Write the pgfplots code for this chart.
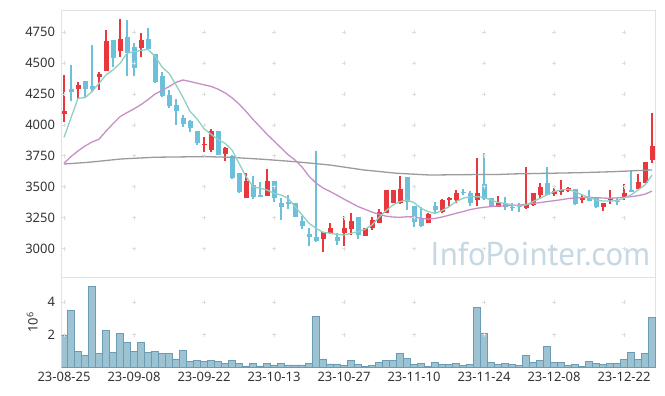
\documentclass[border=0pt]{standalone}
\usepackage{pgfplots}
\pgfplotsset{compat=1.18}
\usepackage{pgfplotstable}
\usepackage{fontspec}
\setmainfont{Noto Sans}
\newfontfamily\wmfont{PT Sans}
\definecolor{upc}{HTML}{E8383D}
\definecolor{dnc}{HTML}{6CC0DA}
\definecolor{ma5}{HTML}{8FD0C3}
\definecolor{ma20}{HTML}{C78FC6}
\definecolor{ma60}{HTML}{9B9B9B}
\definecolor{volf}{HTML}{9DC2D2}
\definecolor{vold}{HTML}{6A9CB5}
\definecolor{gridc}{HTML}{DEDEDE}
\definecolor{axc}{HTML}{E2E2E2}
\definecolor{txt}{HTML}{333333}
\definecolor{wm}{HTML}{C6D8E3}

\pgfplotstableread{
i O H L C
0 4089 4404 4027 4113
2 4289 4345 4210 4324
5 4391 4431 4283 4410
6 4439 4769 4439 4680
8 4599 4855 4548 4696
11 4625 4742 4548 4688
20 3835 3900 3780 3850
21 3798 3968 3779 3951
23 3763 3820 3709 3814
26 3407 3609 3407 3547
29 3428 3641 3428 3547
37 3075 3132 2970 3132
38 3124 3204 3116 3164
40 3124 3264 3021 3164
41 3156 3291 3110 3223
43 3105 3164 3105 3164
44 3164 3253 3150 3231
45 3210 3318 3204 3299
46 3291 3474 3291 3474
47 3366 3474 3366 3474
48 3366 3587 3361 3482
52 3210 3291 3204 3280
54 3299 3399 3291 3393
55 3393 3420 3339 3409
56 3393 3474 3366 3452
59 3393 3730 3345 3452
62 3339 3428 3334 3366
66 3331 3657 3318 3358
67 3353 3447 3345 3447
68 3434 3528 3398 3496
70 3439 3493 3426 3466
71 3458 3555 3434 3474
72 3469 3496 3461 3487
74 3393 3434 3366 3420
77 3339 3366 3304 3366
78 3393 3474 3361 3412
80 3420 3520 3393 3447
82 3485 3603 3479 3536
83 3533 3703 3528 3701
84 3717 4094 3690 3830
}\upT

\pgfplotstableread{
i O H L C
1 4291 4485 4197 4269
3 4356 4356 4221 4289
4 4316 4647 4264 4289
7 4688 4688 4472 4540
9 4709 4849 4396 4580
10 4629 4666 4396 4459
12 4696 4782 4612 4612
13 4574 4574 4337 4350
14 4396 4431 4224 4235
15 4243 4283 4135 4156
16 4162 4208 4000 4116
17 4054 4081 3981 4006
18 4032 4040 3946 3973
19 3951 3951 3838 3857
22 3951 3951 3757 3757
24 3749 3757 3563 3574
25 3609 3614 3452 3460
27 3515 3590 3401 3420
28 3436 3541 3420 3420
30 3547 3547 3380 3412
31 3367 3407 3232 3339
32 3374 3434 3320 3361
33 3367 3367 3259 3259
34 3223 3263 3159 3186
35 3118 3168 3024 3097
36 3092 3792 3056 3064
39 3096 3123 3029 3064
42 3258 3258 3075 3110
49 3577 3577 3312 3374
50 3347 3347 3172 3218
51 3250 3339 3172 3183
53 3345 3380 3285 3312
57 3461 3479 3434 3447
58 3452 3469 3347 3366
60 3523 3776 3393 3398
61 3407 3412 3336 3342
63 3361 3420 3312 3334
64 3339 3372 3307 3328
65 3345 3366 3299 3334
69 3533 3657 3434 3434
73 3479 3479 3353 3361
75 3420 3474 3388 3388
76 3407 3407 3326 3334
79 3385 3407 3353 3374
81 3471 3636 3459 3459
}\dnT

\pgfplotstableread{
i v
0 3900
1 4057
2 4216
3 4221
4 4270
5 4337
6 4405
7 4445
8 4499
9 4580
10 4593
11 4603
12 4612
13 4555
14 4470
15 4418
16 4324
17 4222
18 4110
19 4050
20 3970
21 3925
22 3882
23 3852
24 3798
25 3690
26 3582
27 3501
28 3488
29 3474
30 3447
31 3434
32 3407
33 3339
34 3272
35 3205
36 3164
37 3132
38 3125
39 3114
40 3110
41 3123
42 3137
43 3156
44 3191
45 3253
46 3307
47 3353
48 3380
49 3393
50 3372
51 3326
52 3299
53 3285
54 3307
55 3339
56 3380
57 3407
58 3420
59 3420
60 3414
61 3393
62 3373
63 3366
64 3353
65 3345
66 3353
67 3380
68 3407
69 3434
70 3461
71 3474
72 3479
73 3461
74 3434
75 3415
76 3393
77 3385
78 3385
79 3388
80 3407
81 3434
82 3474
83 3515
84 3595
}\maA

\pgfplotstableread{
i v
0 3690
1 3744
2 3790
3 3830
4 3862
5 3885
6 3950
7 4010
8 4067
9 4100
10 4130
11 4165
12 4205
13 4250
14 4280
15 4310
16 4345
17 4364
18 4352
19 4338
20 4325
21 4312
22 4290
23 4260
24 4220
25 4170
26 4110
27 4045
28 3985
29 3925
30 3870
31 3815
32 3760
33 3717
34 3660
35 3585
36 3530
37 3490
38 3462
39 3432
40 3400
41 3370
42 3340
43 3318
44 3295
45 3278
46 3262
47 3255
48 3253
49 3257
50 3256
51 3245
52 3238
53 3244
54 3255
55 3270
56 3285
57 3299
58 3315
59 3326
60 3334
61 3340
62 3345
63 3345
64 3349
65 3352
66 3358
67 3365
68 3372
69 3380
70 3387
71 3395
72 3404
73 3410
74 3413
75 3415
76 3412
77 3409
78 3407
79 3410
80 3415
81 3420
82 3428
83 3440
84 3465
}\maB

\pgfplotstableread{
i v
0 3684
3.5 3698
8.2 3725
13 3739
20 3744
23.5 3739
28.3 3723
33 3703
38 3676
42.8 3636
47.6 3609
52.3 3595
57 3598
62.3 3600
64.2 3604
69 3609
73.7 3614
78.4 3622
84 3636
}\maC

\pgfplotstableread{
i v
0 1.95
1 3.49
2 0.96
3 0.76
4 4.96
5 0.84
6 2.26
7 0.90
8 2.07
9 1.52
10 0.96
11 1.52
12 0.90
13 0.96
14 0.84
15 0.84
16 0.53
17 1.03
18 0.35
19 0.41
20 0.37
21 0.41
22 0.35
23 0.23
24 0.41
25 0.23
26 0.10
27 0.23
28 0.10
29 0.23
30 0.16
31 0.23
32 0.16
33 0.16
34 0.16
35 0.23
36 3.12
37 0.53
38 0.22
39 0.22
40 0.14
41 0.41
42 0.20
43 0.08
44 0.14
45 0.29
46 0.41
47 0.45
48 0.88
49 0.57
50 0.20
51 0.27
52 0.08
53 0.33
54 0.20
55 0.20
56 0.27
57 0.14
58 0.20
59 3.65
60 2.11
61 0.33
62 0.20
63 0.27
64 0.20
65 0.14
66 0.76
67 0.33
68 0.45
69 1.31
70 0.33
71 0.33
72 0.14
73 0.20
74 0.08
75 0.39
76 0.27
77 0.20
78 0.27
79 0.27
80 0.51
81 0.94
82 0.51
83 0.88
84 3.04
}\volT

\pgfplotsset{
  base/.style={
    x=7pt, xmin=-0.33, xmax=84.55,
    axis line style={axc, line width=0.8pt},
    major tick length=0pt,
    xtick={0,10,...,80},
    tick label style={font=\fontsize{13}{13}\selectfont, text=txt},
    /pgf/number format/assume math mode=true,
    /pgf/number format/1000 sep={},
    yticklabel style={inner sep=0pt, anchor=east, xshift=-6.5pt},
    xticklabel style={inner sep=0pt, anchor=north, yshift=-4.3pt},
  },
}

\begin{document}
\begin{tikzpicture}
\path[use as bounding box] (0,0) rectangle (665pt,-396pt);

% price panel
\begin{axis}[base,
  at={(61.7pt,-277pt)}, anchor=south west,
  y=0.1236pt, ymin=2770, ymax=4930,
  ytick={3000,3250,...,4750},
  xticklabels={},
]
\pgfplotsinvokeforeach{3000,3250,3500,3750,4000,4250,4500,4750}{
  \addplot[only marks, mark=+, mark size=2pt, color=gridc, mark options={line width=0.8pt}]
    coordinates {(0,#1)(10,#1)(20,#1)(30,#1)(40,#1)(50,#1)(60,#1)(70,#1)(80,#1)};
}
% wicks
\addplot[draw=none, mark=none, error bars/.cd, y dir=plus, y explicit, error mark=none,
  error bar style={draw=upc, line width=1.2pt}]
  table[x=i, y=L, y error expr=\thisrow{H}-\thisrow{L}] {\upT};
\addplot[draw=none, mark=none, error bars/.cd, y dir=plus, y explicit, error mark=none,
  error bar style={draw=dnc, line width=1.2pt}]
  table[x=i, y=L, y error expr=\thisrow{H}-\thisrow{L}] {\dnT};
% bodies
\addplot[draw=none, mark=none, error bars/.cd, y dir=plus, y explicit, error mark=none,
  error bar style={draw=upc, line width=5pt}]
  table[x=i, y=O, y error expr=\thisrow{C}-\thisrow{O}] {\upT};
\addplot[draw=none, mark=none, error bars/.cd, y dir=plus, y explicit, error mark=none,
  error bar style={draw=dnc, line width=5pt}]
  table[x=i, y=C, y error expr=\thisrow{O}-\thisrow{C}] {\dnT};
% moving averages
\addplot[ma60, line width=1.3pt, mark=none] table[x=i, y=v] {\maC};
\addplot[ma20, line width=1.3pt, mark=none] table[x=i, y=v] {\maB};
\addplot[ma5, line width=1.3pt, mark=none] table[x=i, y=v] {\maA};
\end{axis}

% volume panel
\begin{axis}[base,
  at={(61.7pt,-367.5pt)}, anchor=south west,
  y=16.4pt, ymin=0, ymax=5.49,
  ytick={2,4},
  xticklabels={23-08-25,23-09-08,23-09-22,23-10-13,23-10-27,23-11-10,23-11-24,23-12-08,23-12-22},
  ylabel={10\textsuperscript{6}},
  every axis y label/.style={at={(rel axis cs:0,0.5)}, xshift=-29.5pt, rotate=90, anchor=center,
    font=\fontsize{13}{13}\selectfont, text=txt},
]
\pgfplotsinvokeforeach{2,4}{
  \addplot[only marks, mark=+, mark size=2pt, color=gridc, mark options={line width=0.8pt}]
    coordinates {(0,#1)(10,#1)(20,#1)(30,#1)(40,#1)(50,#1)(60,#1)(70,#1)(80,#1)};
}
\addplot[ybar, bar width=6.6pt, bar shift=0pt, fill=volf, draw=vold, line width=0.6pt]
  table[x=i, y=v] {\volT};
\end{axis}

\node[anchor=base west, inner sep=0pt, text=wm, font=\wmfont\fontsize{33}{33}\selectfont]
  at (430pt,-265pt) {InfoPointer.com};
\end{tikzpicture}
\end{document}
